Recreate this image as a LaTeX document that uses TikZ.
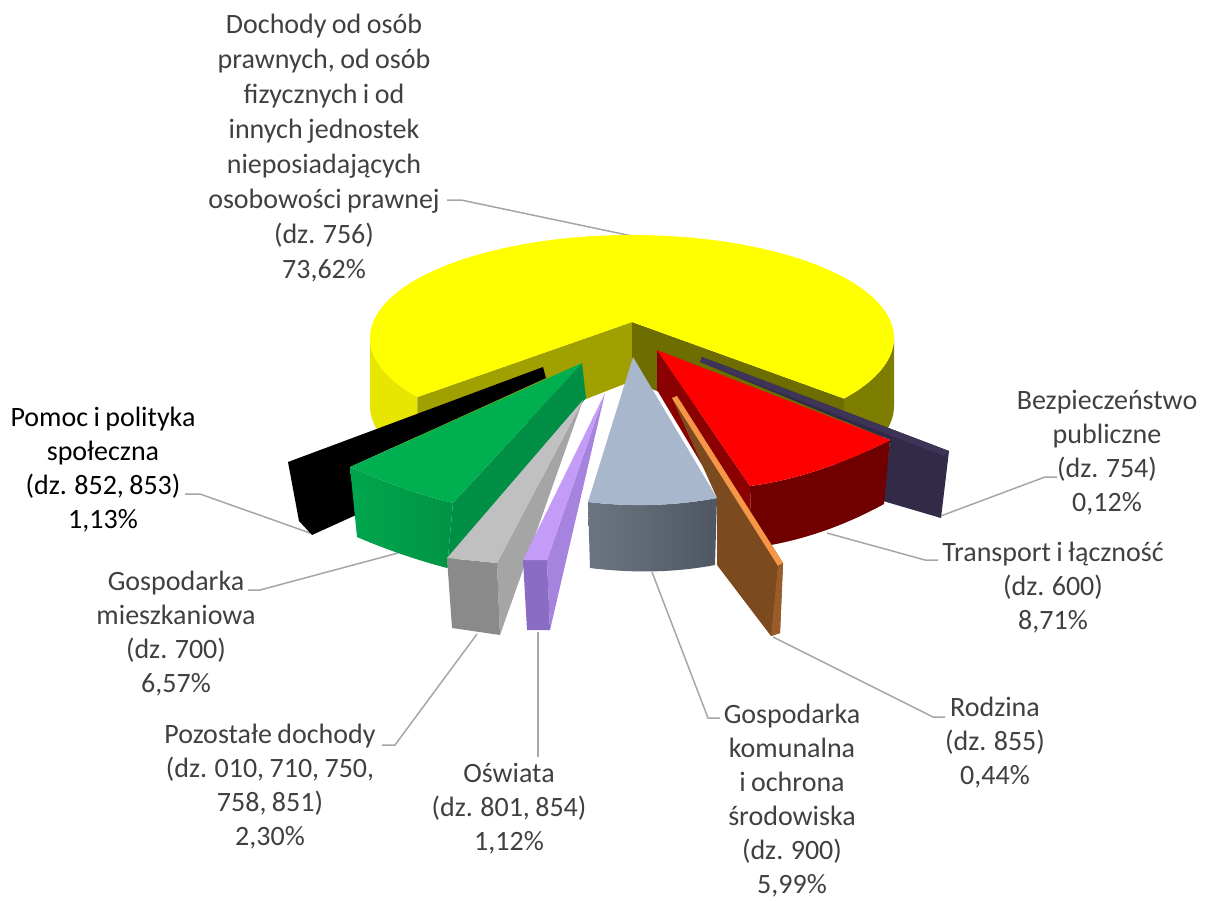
\documentclass[tikz,border=0pt]{standalone}
\usepackage{fontspec}
\setmainfont{Carlito}[WordSpace=0.85]
\usepackage{xcolor}
\usepackage{tikz}
\usetikzlibrary{calc}

\definecolor{txtgray}{HTML}{404040}
\definecolor{linegray}{HTML}{A6A6A6}
\definecolor{ytop}{HTML}{FFFF00}
\definecolor{ywall}{HTML}{E6E600}
\definecolor{ycutl}{HTML}{A0A000}
\definecolor{ycutr}{HTML}{6E6E00}
\definecolor{ywallr}{HTML}{7D7D00}
\definecolor{dptop}{HTML}{3D3458}
\definecolor{dpside}{HTML}{332A47}
\definecolor{rtop}{HTML}{FF0000}
\definecolor{rcut}{HTML}{8B0000}
\definecolor{rfront}{HTML}{700000}
\definecolor{brside}{HTML}{7B4A1F}
\definecolor{brtop}{HTML}{F79646}
\definecolor{brend}{HTML}{9A5C28}
\definecolor{gbtop}{HTML}{A8B7CB}
\definecolor{gbfrontl}{HTML}{6B7480}
\definecolor{gbfrontr}{HTML}{4F5862}
\definecolor{pltop}{HTML}{C49CF8}
\definecolor{plside}{HTML}{A583DF}
\definecolor{plfront}{HTML}{8A6CC4}
\definecolor{grtop}{HTML}{C0C0C0}
\definecolor{grside}{HTML}{A5A5A5}
\definecolor{grfront}{HTML}{8A8A8A}
\definecolor{gntop}{HTML}{00B050}
\definecolor{gncut}{HTML}{008F45}
\definecolor{gnfrontl}{HTML}{00A64E}
\definecolor{gnfrontr}{HTML}{009444}

\begin{document}
\begin{tikzpicture}[x=1pt, y=-1pt,
	lbl/.style={align=center, inner sep=0pt, text=txtgray, font=\fontsize{28}{34}\selectfont},
	leader/.style={draw=linegray, line width=1.5pt},
	]
\useasboundingbox (0,0) rectangle (1213,900);

% labels
\node[lbl, font=\fontsize{28}{35}\selectfont] (lbl756) at (324,148) {Dochody od osób\\prawnych, od osób\\fizycznych i od\\innych jednostek\\nieposiadających\\osobowości prawnej\\(dz. 756)\\73,62\%};
\node[lbl] (lbl754) at (1107,453) {Bezpieczeństwo\\publiczne\\(dz. 754)\\0,12\%};
\node[lbl] (lbl600) at (1053,588) {Transport i łączność\\(dz. 600)\\8,71\%};
\node[lbl] (lbl855) at (995,743) {Rodzina\\(dz. 855)\\0,44\%};
\node[lbl] (lbl900) at (792,801) {Gospodarka\\komunalna\\i ochrona\\środowiska\\(dz. 900)\\5,99\%};
\node[lbl] (lbl801) at (509,809) {Oświata\\(dz. 801, 854)\\1,12\%};
\node[lbl] (lbl010) at (270,787) {Pozostałe dochody\\(dz. 010, 710, 750,\\758, 851)\\2,30\%};
\node[lbl] (lbl700) at (176,634) {Gospodarka\\mieszkaniowa\\(dz. 700)\\6,57\%};
\node[lbl, text=black] (lbl852) at (103,470) {Pomoc i polityka\\społeczna\\(dz. 852, 853)\\1,13\%};

% leader lines
\coordinate (k756) at (447,200);  \coordinate (p756) at (632,236);
\coordinate (k754) at (1057,477); \coordinate (p754) at (938,517);
\coordinate (k600) at (938,560);  \coordinate (p600) at (827,533);
\coordinate (k855) at (945,717);  \coordinate (p855) at (773,637);
\coordinate (k900) at (720,718);  \coordinate (p900) at (652,572);
\coordinate (k801) at (538,757);  \coordinate (p801) at (538,632);
\coordinate (k010) at (382,745);  \coordinate (p010) at (477,634);
\coordinate (k700) at (248,590);  \coordinate (p700) at (398,553);
\coordinate (k852) at (185,494);  \coordinate (p852) at (310,533);
\draw[leader] (k756) -- ++(14,0) -- (p756);
\draw[leader] (k754) -- ++(-12,0) -- (p754);
\draw[leader] (k600) -- ++(-13,0) -- (p600);
\draw[leader] (k855) -- ++(-12,0) -- (p855);
\draw[leader] (k900) -- ++(-12,0) -- (p900);
\draw[leader] (k801) -- (p801);
\draw[leader] (k010) -- ++(13,0) -- (p010);
\draw[leader] (k700) -- ++(12,0) -- (p700);
\draw[leader] (k852) -- ++(15,0) -- (p852);

% dz. 756
\coordinate (C) at (632,338);
\coordinate (YA) at (632,322);
\coordinate (YB) at (632,381);
\coordinate (YL) at ($(C)+(145:262 and 103)$);
\coordinate (YR) at ($(C)+(36:262 and 103)$);
\fill[ywall] (YL) arc[start angle=145, end angle=180, x radius=262, y radius=103] -- ++(0,68) arc[start angle=180, end angle=145, x radius=262, y radius=103] -- cycle;
\fill[ywallr] (YR) arc[start angle=36, end angle=0, x radius=262, y radius=103] -- ++(0,68) arc[start angle=0, end angle=36, x radius=262, y radius=103] -- cycle;
\fill[ycutl] (YA) -- (YL) -- ++(0,68) -- (YB) -- cycle;
\fill[ycutr] (YA) -- (YR) -- ++(0,68) -- (YB) -- cycle;
\fill[ytop] (YA) -- (YL) arc[start angle=145, end angle=396, x radius=262, y radius=103] -- cycle;

% dz. 754
\fill[dpside] (702,357) -- (949,451) -- (941,518) -- (883,501) -- (890,440) -- (700,362) -- cycle;
\fill[dptop] (702,357) -- (949,451) -- (944,456) -- (700,362) -- cycle;

% dz. 600
\coordinate (RA) at (657,350);  \coordinate (RB) at (657,390);
\coordinate (RL) at (750,486);  \coordinate (RLb) at (752,548);
\coordinate (RR) at (890,440);  \coordinate (RRb) at (884,504);
\fill[rcut] (RA) -- (RL) -- (RLb) -- (RB) -- cycle;
\fill[rfront] (RL) .. controls (797,480) and (845,463) .. (RR) -- (RRb) .. controls (842,527) and (798,542) .. (RLb) -- cycle;
\fill[rtop] (RA) -- (RL) .. controls (797,480) and (845,463) .. (RR) -- cycle;

% dz. 855
\fill[brside] (672,398) -- (677,396) -- (783,563) -- (780,633) -- (771,636) -- (717,565) -- (717,498) -- cycle;
\fill[brtop] (672,398) -- (677,396) -- (783,563) -- (778,566) -- cycle;
\fill[brend] (778,566) -- (783,563) -- (780,633) -- (771,636) -- cycle;

% dz. 900
\shade[left color=gbfrontl, right color=gbfrontr] (588,502) .. controls (630,507) and (675,506) .. (717,498) -- (715,565) .. controls (673,573) and (631,573) .. (590,568) -- cycle;
\fill[gbtop] (633,357) -- (588,502) .. controls (630,507) and (675,506) .. (717,498) -- cycle;

% dz. 852, 853
\fill[black] (543,367) -- (288,462) -- (299,521) -- (312,535) -- (356,515) -- (350,467) -- (546,378) -- cycle;

% dz. 700
\coordinate (GA) at (582,363);  \coordinate (GB) at (586,398);
\coordinate (GL) at (350,467);  \coordinate (GLb) at (357,537);
\coordinate (GR) at (453,503);  \coordinate (GRb) at (447,568);
\fill[gncut] (GA) -- (GR) -- (GRb) -- (GB) -- cycle;
\shade[left color=gnfrontl, right color=gnfrontr] (GL) .. controls (385,482) and (420,495) .. (GR) -- (GRb) .. controls (417,560) and (387,550) .. (GLb) -- cycle;
\fill[gntop] (GA) -- (GL) .. controls (385,482) and (420,495) .. (GR) -- cycle;

% dz. 010, 710, 750, 758, 851
\fill[grside] (583,400) -- (497,563) -- (500,635) -- cycle;
\fill[grfront] (447,558) -- (497,563) -- (500,635) -- (452,628) -- cycle;
\fill[grtop] (583,400) -- (447,558) -- (497,563) -- cycle;

% dz. 801, 854
\fill[plside] (605,393) -- (547,560) -- (550,630) -- cycle;
\fill[plfront] (523,560) -- (547,560) -- (550,630) -- (527,630) -- cycle;
\fill[pltop] (605,393) -- (523,560) -- (547,560) -- cycle;
\end{tikzpicture}
\end{document}
